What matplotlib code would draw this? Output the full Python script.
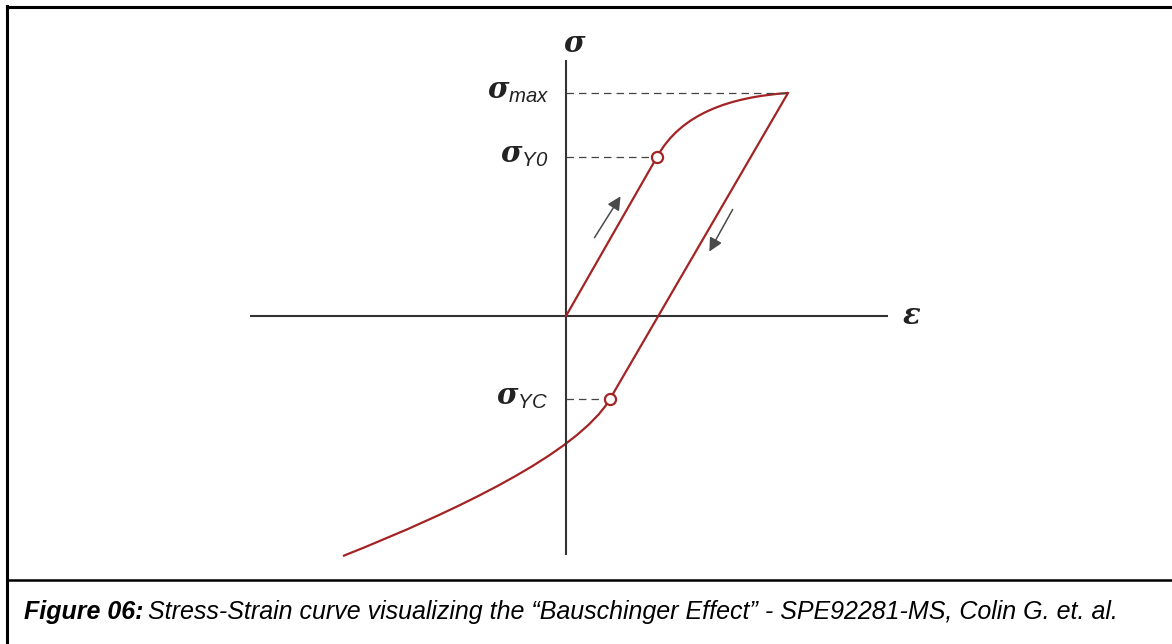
import matplotlib
matplotlib.use("Agg")
import matplotlib.pyplot as plt
from matplotlib.path import Path
from matplotlib.patches import PathPatch

plt.rcParams['mathtext.fontset'] = 'custom'
plt.rcParams['mathtext.it'] = 'DejaVu Serif:italic:bold'
plt.rcParams['mathtext.sf'] = 'Liberation Sans:italic'
plt.rcParams['mathtext.rm'] = 'Liberation Sans'

# stress-strain data (arbitrary units)
eps_yield = 0.91
sig_yield = 1.59
eps_max = 2.22
sig_max = 2.23
eps_yc = 0.44
sig_yc = -0.83

# hardening curve (cubic bezier: start, ctrl1, ctrl2, end)
hard_x = [eps_yield, 1.15, 1.65, eps_max]
hard_y = [sig_yield, 2.03, 2.19, sig_max]
# reverse (compressive) curve
rev_x = [eps_yc, 0.12, -1.10, -2.23]
rev_y = [sig_yc, -1.37, -1.95, -2.40]

# axis extents
x_axis = [-3.16, 3.22]
y_axis = [-2.39, 2.56]

# direction arrows (tail, head)
arrow_up = [(0.27, 0.76), (0.56, 1.22)]
arrow_down = [(1.68, 1.09), (1.42, 0.62)]

red = '#a32424'
ax_col = '#333333'

fig = plt.figure(figsize=(11.72, 6.44), dpi=100)
ax = fig.add_axes([0, 0, 1, 1])
ax.set_xlim(-5.66, 6.06)
ax.set_ylim(-3.28, 3.16)
ax.axis('off')

# axes
ax.plot(x_axis, [0, 0], color=ax_col, lw=1.5, solid_capstyle='butt')
ax.plot([0, 0], y_axis, color=ax_col, lw=1.5, solid_capstyle='butt')

# dashed guide lines
dash = dict(color='#444444', lw=0.9, ls=(0, (6, 4)))
ax.plot([0, eps_max], [sig_max, sig_max], **dash)
ax.plot([0, eps_yield - 0.05], [sig_yield, sig_yield], **dash)
ax.plot([0, eps_yc - 0.05], [sig_yc, sig_yc], **dash)

# elastic loading
ax.plot([0, eps_yield], [0, sig_yield], color=red, lw=1.6)
# hardening
hard = Path(list(zip(hard_x, hard_y)), [Path.MOVETO, Path.CURVE4, Path.CURVE4, Path.CURVE4])
ax.add_patch(PathPatch(hard, fc='none', ec=red, lw=1.6))
# elastic unloading
ax.plot([eps_max, eps_yc], [sig_max, sig_yc], color=red, lw=1.6)
# reverse yielding
rev = Path(list(zip(rev_x, rev_y)), [Path.MOVETO, Path.CURVE4, Path.CURVE4, Path.CURVE4])
ax.add_patch(PathPatch(rev, fc='none', ec=red, lw=1.6))

# yield points
ax.plot([eps_yield, eps_yc], [sig_yield, sig_yc], 'o', ms=8, mfc='white', mec=red, mew=1.6, zorder=5)

# arrows
for (t, h) in [arrow_up, arrow_down]:
    ax.annotate('', xy=h, xytext=t,
                arrowprops=dict(arrowstyle='-|>', color='#4a4a4a', lw=1.1, mutation_scale=20))

# labels
ax.text(0.09, 2.72, r'$\sigma$', fontsize=21, ha='center', va='center', color='#222222')
ax.text(3.46, 0.0, r'$\varepsilon$', fontsize=21, ha='center', va='center', color='#222222')
ax.text(-0.16, sig_max + 0.02, r'$\sigma_{\mathsf{max}}$', fontsize=21, ha='right', va='center', color='#222222')
ax.text(-0.18, sig_yield + 0.02, r'$\sigma_{\mathsf{Y0}}$', fontsize=21, ha='right', va='center', color='#222222')
ax.text(-0.18, sig_yc + 0.02, r'$\sigma_{\mathsf{YC}}$', fontsize=21, ha='right', va='center', color='#222222')

# frame lines
fig.add_artist(plt.Line2D([6.5 / 1172, 1], [1 - 6.5 / 644, 1 - 6.5 / 644], color='black', lw=2.2, transform=fig.transFigure))
fig.add_artist(plt.Line2D([6.5 / 1172, 6.5 / 1172], [0, 1 - 5.5 / 644], color='black', lw=2.2, transform=fig.transFigure))
fig.add_artist(plt.Line2D([6.5 / 1172, 1], [1 - 580 / 644, 1 - 580 / 644], color='black', lw=1.8, transform=fig.transFigure))

# caption
cy = 1 - 612 / 644
t1 = fig.text(24 / 1172, cy, 'Figure 06:', fontsize=18, fontweight='bold', fontstyle='italic',
              family='Liberation Sans', va='center', ha='left')
fig.canvas.draw()
bb = t1.get_window_extent()
fig.text((bb.x1 + 5) / 1172, cy,
         'Stress-Strain curve visualizing the \u201cBauschinger Effect\u201d - SPE92281-MS, Colin G. et. al.',
         fontsize=18, fontstyle='italic', family='Liberation Sans', va='center', ha='left')

fig.savefig('out.png', dpi=100)
